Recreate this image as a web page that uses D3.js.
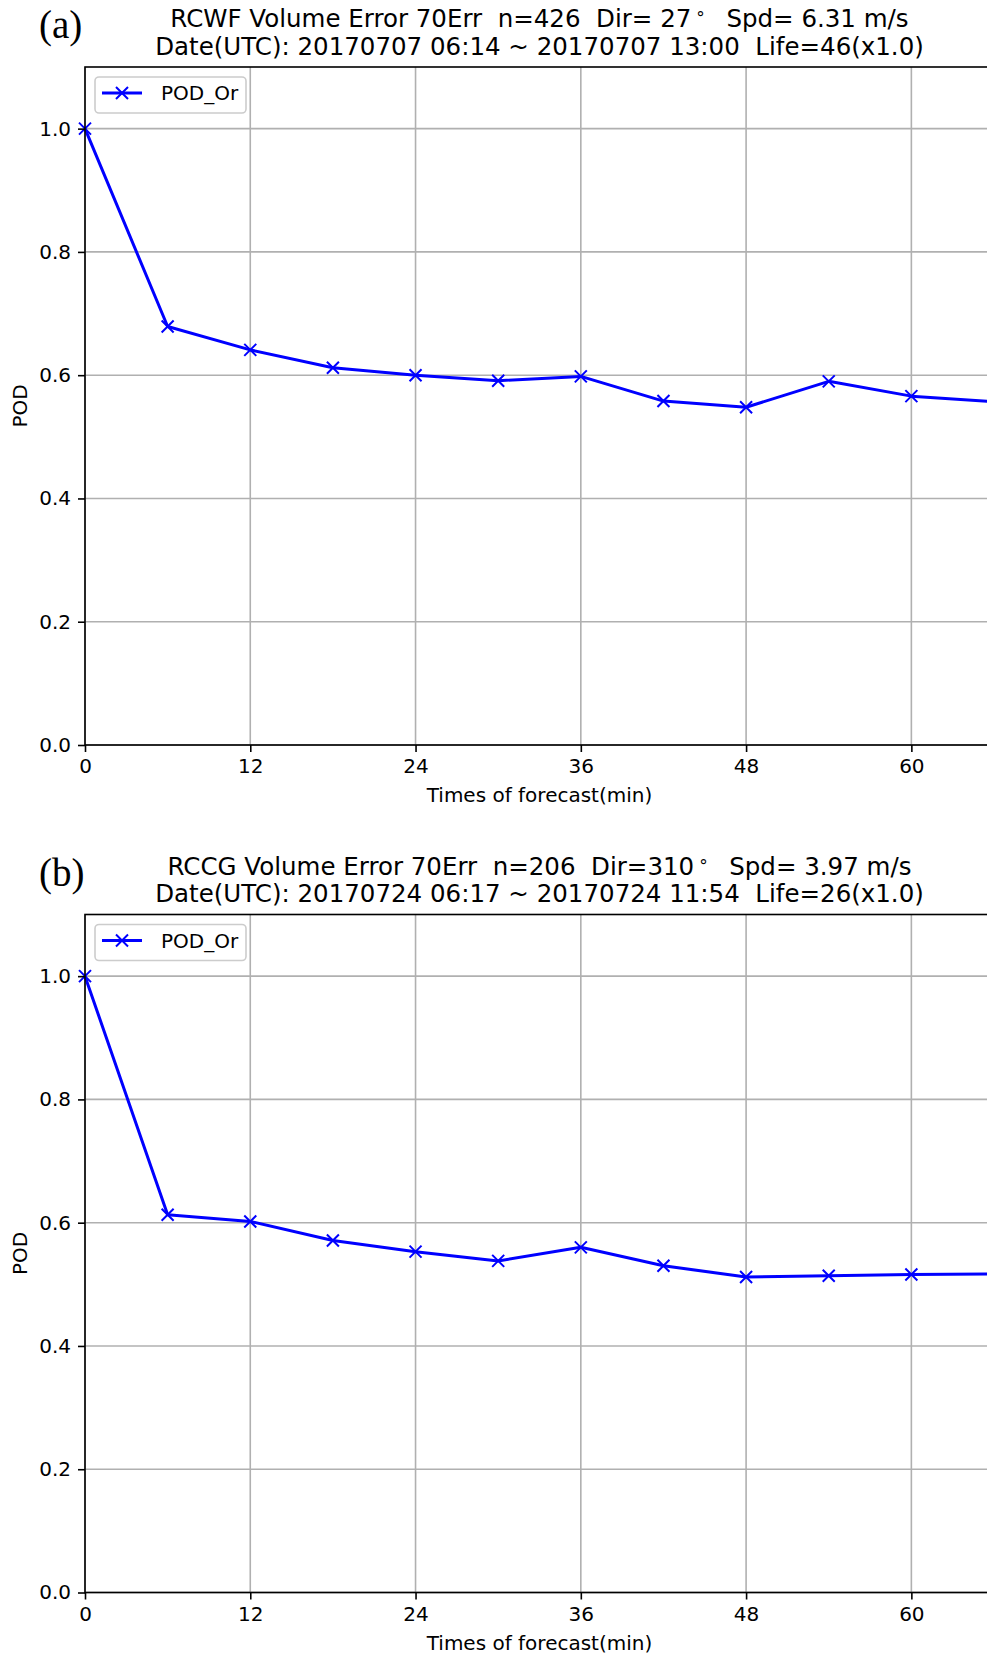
<!DOCTYPE html>
<html><head><meta charset="utf-8">
<script src="https://cdn.jsdelivr.net/npm/d3@7"></script>
<style>body{margin:0;background:#fff;overflow:hidden}svg{display:block}text{font-family:"DejaVu Sans";white-space:pre}</style>
</head><body><svg id="c" width="987" height="1657"></svg>
<script>
const times = [0, 6, 12, 18, 24, 30, 36, 42, 48, 54, 60, 66];
const podA = [1.0, 0.679, 0.641, 0.612, 0.600, 0.591, 0.598, 0.558, 0.548, 0.590, 0.566, 0.557];
const podB = [1.0, 0.613, 0.602, 0.571, 0.553, 0.538, 0.560, 0.530, 0.512, 0.514, 0.516, 0.517];
const xTicks = [0, 12, 24, 36, 48, 60];
const yTicks = [0.0, 0.2, 0.4, 0.6, 0.8, 1.0];
const panelLabels = ["(a)", "(b)"];
const titleLine1 = [
  ["RCWF Volume Error 70Err  n=426  Dir= 27", "  Spd= 6.31 m/s"],
  ["RCCG Volume Error 70Err  n=206  Dir=310", "  Spd= 3.97 m/s"]
];
const titleLine2 = [
  "Date(UTC): 20170707 06:14 ~ 20170707 13:00  Life=46(x1.0)",
  "Date(UTC): 20170724 06:17 ~ 20170724 11:54  Life=26(x1.0)"
];
const seriesName = "POD_Or";
const xLabel = "Times of forecast(min)";
const yLabel = "POD";

const svg = d3.select("#c");
const panels = [
  {top: 67, bottom: 745, data: podA, i: 0},
  {top: 914.5, bottom: 1592.5, data: podB, i: 1}
];
const left = 85, right = 994;
const x = d3.scaleLinear().domain([0, 66]).range([left, right]);

panels.forEach(p => {
  const y = d3.scaleLinear().domain([0, 1.1]).range([p.bottom, p.top]);
  const g = svg.append("g");

  // grid
  g.append("g").selectAll("line").data(xTicks).join("line")
    .attr("x1", d => x(d)).attr("x2", d => x(d))
    .attr("y1", p.top).attr("y2", p.bottom)
    .attr("stroke", "#b0b0b0").attr("stroke-width", 1.6);
  g.append("g").selectAll("line").data(yTicks).join("line")
    .attr("x1", left).attr("x2", right)
    .attr("y1", d => y(d)).attr("y2", d => y(d))
    .attr("stroke", "#b0b0b0").attr("stroke-width", 1.6);

  // line
  const pts = times.map((t, k) => [t, p.data[k]]);
  g.append("path").datum(pts)
    .attr("d", d3.line().x(d => x(d[0])).y(d => y(d[1])))
    .attr("fill", "none").attr("stroke", "#0000ff").attr("stroke-width", 3)
    .attr("stroke-linejoin", "round");
  const m = 6;
  g.append("g").selectAll("path").data(pts).join("path")
    .attr("d", d => {
      const cx = x(d[0]), cy = y(d[1]);
      return `M${cx - m},${cy - m}L${cx + m},${cy + m}M${cx - m},${cy + m}L${cx + m},${cy - m}`;
    })
    .attr("stroke", "#0000ff").attr("stroke-width", 2).attr("fill", "none");

  // axes
  const xa = g.append("g").attr("transform", `translate(0,${p.bottom})`)
    .call(d3.axisBottom(x).tickValues(xTicks).tickFormat(d3.format("d")).tickSize(7).tickPadding(7));
  const ya = g.append("g").attr("transform", `translate(${left},0)`)
    .call(d3.axisLeft(y).tickValues(yTicks).tickFormat(d3.format(".1f")).tickSize(7).tickPadding(7));
  [xa, ya].forEach(a => {
    a.select(".domain").remove();
    a.selectAll(".tick line").attr("stroke", "#000").attr("stroke-width", 1.6);
    a.selectAll(".tick text").attr("fill", "#000").style("font-size", "20px").style("font-family", "DejaVu Sans");
  });

  // spines
  g.append("rect").attr("x", left).attr("y", p.top).attr("width", right - left).attr("height", p.bottom - p.top)
    .attr("fill", "none").attr("stroke", "#000").attr("stroke-width", 1.6);

  // labels
  g.append("text").attr("x", (left + right) / 2).attr("y", p.bottom + 57)
    .attr("text-anchor", "middle").style("font-size", "20px").text(xLabel);
  g.append("text").attr("transform", `translate(27,${(p.top + p.bottom) / 2}) rotate(-90)`)
    .attr("text-anchor", "middle").style("font-size", "20px").text(yLabel);

  // title
  const t1 = g.append("text").attr("x", (left + right) / 2).attr("y", p.top - 40)
    .attr("text-anchor", "middle").style("font-size", "24.5px");
  t1.append("tspan").text(titleLine1[p.i][0]);
  t1.append("tspan").attr("dx", 5).attr("dy", -3).style("font-size", "17px").text("°");
  t1.append("tspan").attr("dx", 6).attr("dy", 3).text(titleLine1[p.i][1]);
  g.append("text").attr("x", (left + right) / 2).attr("y", p.top - 12.5)
    .attr("text-anchor", "middle").style("font-size", "24.5px").text(titleLine2[p.i]);
  g.append("text").attr("x", 39).attr("y", p.top - 29)
    .style("font-family", "'Liberation Serif', 'Times New Roman', serif").style("font-size", "39px")
    .text(panelLabels[p.i]);

  // legend
  const lg = g.append("g");
  lg.append("rect").attr("x", 95).attr("y", p.top + 10).attr("width", 151).attr("height", 36).attr("rx", 4)
    .attr("fill", "#fff").attr("fill-opacity", 0.8).attr("stroke", "#cccccc").attr("stroke-width", 1.6);
  const ly = p.top + 26;
  lg.append("line").attr("x1", 102).attr("x2", 142).attr("y1", ly).attr("y2", ly)
    .attr("stroke", "#0000ff").attr("stroke-width", 3);
  lg.append("path").attr("d", `M${122 - m},${ly - m}L${122 + m},${ly + m}M${122 - m},${ly + m}L${122 + m},${ly - m}`)
    .attr("stroke", "#0000ff").attr("stroke-width", 2);
  lg.append("text").attr("x", 161).attr("y", ly + 7).style("font-size", "20px").text(seriesName);
});
</script></body></html>
